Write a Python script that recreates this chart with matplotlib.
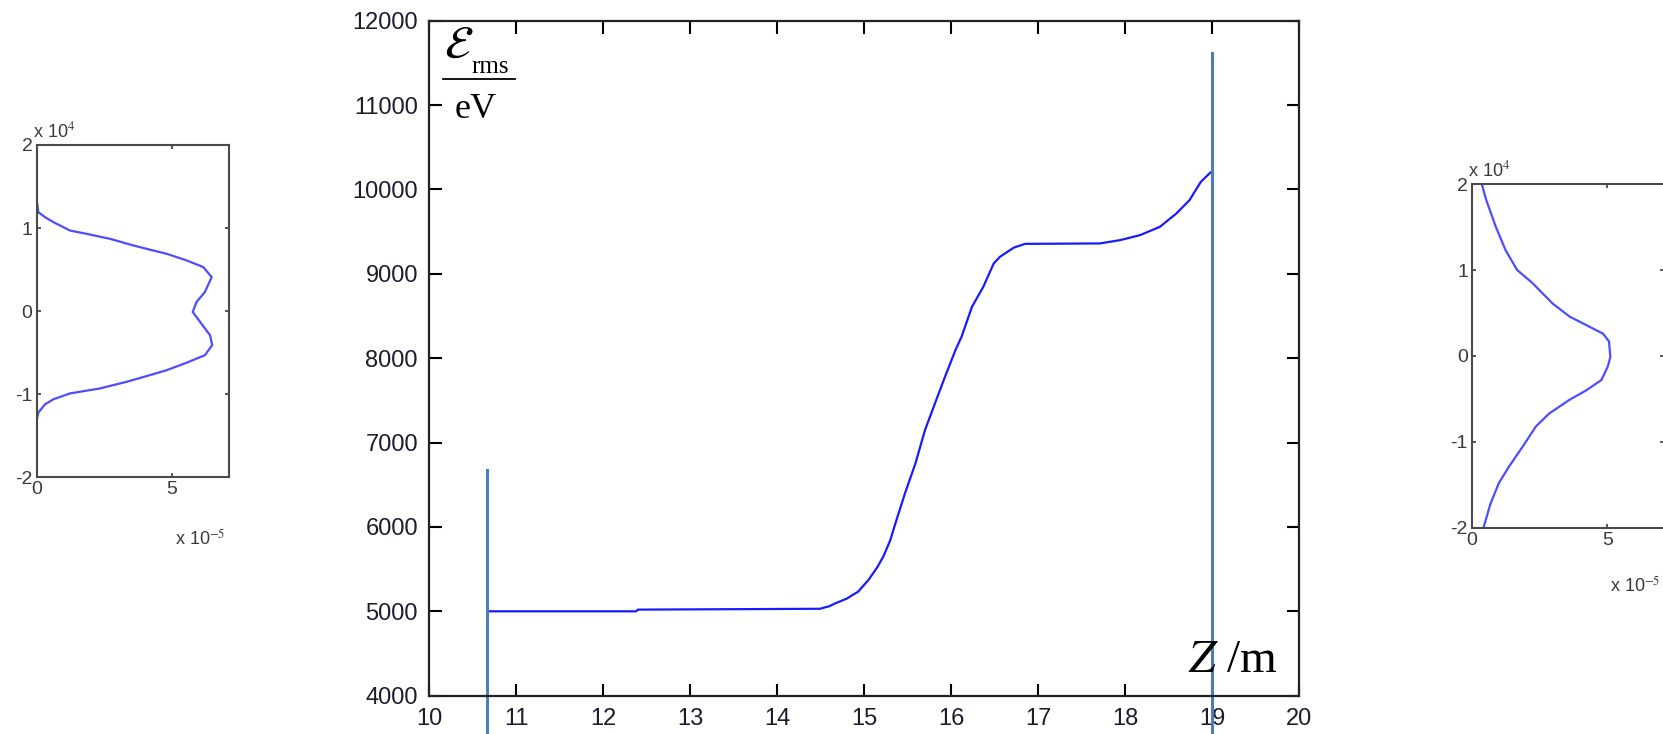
import numpy as np
import matplotlib.pyplot as plt
from matplotlib.lines import Line2D

plt.rcParams['font.family'] = ['Liberation Sans', 'DejaVu Sans']
plt.rcParams['mathtext.fontset'] = 'stix'
plt.rcParams['axes.unicode_minus'] = False

# energy spread along the line
z = [10.67, 12.38, 12.40, 14.49, 14.60, 14.67, 14.80, 14.93, 15.05, 15.15,
     15.22, 15.30, 15.36, 15.47, 15.59, 15.70, 15.80, 15.93, 16.05, 16.12,
     16.24, 16.37, 16.49, 16.56, 16.62, 16.72, 16.85, 17.71, 17.94, 18.17,
     18.40, 18.59, 18.74, 18.87, 18.98]
e_rms = [5000, 5000, 5020, 5030, 5060, 5095, 5150, 5232, 5371, 5520,
         5647, 5840, 6043, 6398, 6753, 7148, 7424, 7780, 8096, 8254,
         8609, 8846, 9123, 9200, 9242, 9310, 9355, 9360, 9399, 9458,
         9557, 9716, 9873, 10090, 10200]
z_start = 10.667
z_end = 19.0

# energy distribution at entrance (w in 1e-5, E in 1e4)
left_w = [0.02, 0.06, 0.31, 0.62, 1.23, 1.85, 2.71, 3.57, 4.18, 4.80, 5.54,
          6.15, 6.46, 6.21, 5.90, 5.76, 6.40, 6.48, 6.21, 5.54, 4.80, 4.18,
          3.32, 2.34, 1.23, 0.62, 0.31, 0.06, 0.02]
left_e = [1.29, 1.19, 1.13, 1.07, 0.97, 0.93, 0.87, 0.79, 0.74, 0.69, 0.61,
          0.53, 0.41, 0.23, 0.11, -0.01, -0.29, -0.41, -0.53, -0.62, -0.71,
          -0.77, -0.85, -0.93, -0.99, -1.06, -1.12, -1.22, -1.28]

# energy distribution at exit
right_w = [0.37, 0.52, 0.87, 1.24, 1.67, 2.23, 2.98, 3.60, 4.22, 4.84, 5.06,
           5.11, 5.02, 4.78, 4.22, 3.60, 2.85, 2.36, 1.86, 1.36, 0.99, 0.68, 0.43]
right_e = [1.99, 1.82, 1.51, 1.23, 1.00, 0.85, 0.61, 0.46, 0.36, 0.26, 0.17,
           -0.01, -0.12, -0.28, -0.40, -0.51, -0.67, -0.82, -1.06, -1.29,
           -1.48, -1.72, -1.99]

fig = plt.figure(figsize=(16.63, 7.34), dpi=100)

# main plot
ax = fig.add_axes([0.258, 0.0522, 0.5232, 0.9196])
ax.plot(z, e_rms, color='#1a1aff', lw=1.6)
ax.set_xlim(10, 20)
ax.set_ylim(4000, 12000)
ax.set_xticks(np.arange(10, 21, 1))
ax.set_yticks(np.arange(4000, 12001, 1000))
ax.tick_params(direction='in', length=9, width=1.5, top=True, right=True,
               labelsize=17, labelcolor='#1c1c30')
ax.tick_params(axis='x', pad=9)
ax.tick_params(axis='y', pad=8)
for s in ax.spines.values():
    s.set_linewidth(1.6)
    s.set_color('#222222')

ax.axvline(z_start, ymin=-0.06, ymax=0.334, color='#4a7ebb', lw=2.2, clip_on=False)
ax.axvline(z_end, ymin=-0.06, ymax=0.952, color='#4a7ebb', lw=2.2, clip_on=False)

# E_rms / eV written as a stacked fraction
ax.text(0.017, 0.945, r'$\mathcal{E}$', transform=ax.transAxes,
        fontsize=33, ha='left', va='baseline', color='black')
ax.text(0.049, 0.922, 'rms', transform=ax.transAxes, family='Liberation Serif',
        fontsize=18, ha='left', va='baseline', color='black')
ax.add_line(Line2D([0.016, 0.099], [0.9136, 0.9136], transform=ax.transAxes,
                   color='black', lw=1.3))
ax.text(0.0537, 0.8559, 'eV', transform=ax.transAxes, family='Liberation Serif',
        fontsize=26, ha='center', va='baseline', color='black')
ax.text(0.975, 0.035, r'$Z$ /m', transform=ax.transAxes, family='Liberation Serif',
        fontsize=34, ha='right', va='baseline', color='black')


def side_plot(rect, w, e, off5_y):
    a = fig.add_axes(rect)
    a.plot(w, e, color='#4d4dff', lw=1.6)
    a.set_xlim(0, 7.1)
    a.set_ylim(-2, 2)
    a.set_xticks([0, 5])
    a.set_yticks([-2, -1, 0, 1, 2])
    a.tick_params(direction='in', length=3, width=1.2, top=True, right=True,
                  labelsize=14, labelcolor='#3a3a3a', color='#3a3a3a', pad=3)
    for s in a.spines.values():
        s.set_linewidth(1.5)
        s.set_color('#4a4a4a')
    a.text(-0.02, 1.01, r'x 10$^{4}$', transform=a.transAxes, fontsize=13,
           color='#3a3a3a', ha='left', va='bottom')
    a.text(0.72, off5_y, r'x 10$^{-5}$', transform=a.transAxes, fontsize=13,
           color='#3a3a3a', ha='left', va='center')
    return a


side_plot([0.0221, 0.3497, 0.1156, 0.4528], left_w, left_e, -0.185)
side_plot([0.8852, 0.281, 0.1155, 0.468], right_w, right_e, -0.17)

fig.savefig('out.png', dpi=100)
